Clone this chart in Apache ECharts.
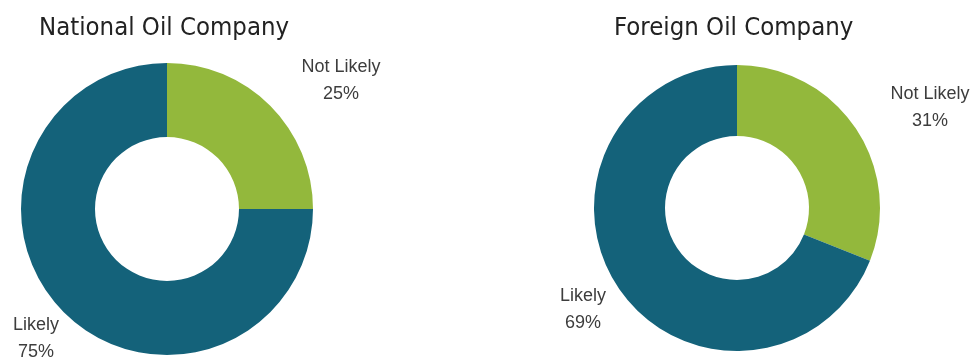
<!DOCTYPE html>
<html>
<head>
<meta charset="utf-8">
<script src="https://cdn.jsdelivr.net/npm/echarts@6/dist/echarts.min.js"></script>
<style>
  html, body { margin: 0; padding: 0; background: #ffffff; }
  #chart { width: 978px; height: 361px; }
</style>
</head>
<body>
<div id="chart"></div>
<script>
// Survey answers for the two company types
const categories = ['Not Likely', 'Likely'];
const nationalValues = [25, 75];
const foreignValues = [31, 69];
const chartTitles = ['National Oil Company', 'Foreign Oil Company'];

const colors = ['#93b83c', '#14627a'];

// where each answer label sits (x, y of the label centre)
const labelSpots = [
  [[341, 81], [36, 339]],
  [[930, 108], [583, 310]]
];

function makeData(values) {
  return categories.map((name, i) => ({
    name: name,
    value: values[i],
    itemStyle: { color: colors[i] }
  }));
}

function pieSeries(values, center, radius, spots) {
  return {
    type: 'pie',
    center: center,
    radius: radius,
    startAngle: 90,
    clockwise: true,
    silent: true,
    animation: false,
    avoidLabelOverlap: false,
    data: makeData(values),
    label: {
      show: true,
      position: 'inside',
      formatter: '{b}\n{c}%',
      fontFamily: 'Liberation Sans, Arial, sans-serif',
      fontSize: 18,
      color: '#3d3d3d',
      lineHeight: 27,
      align: 'center',
      overflow: 'none'
    },
    labelLine: { show: false },
    labelLayout: function (params) {
      const s = spots[params.dataIndex];
      return { x: s[0], y: s[1], align: 'center', verticalAlign: 'middle' };
    }
  };
}

const titleStyle = {
  fontFamily: 'DejaVu Sans Condensed, DejaVu Sans, sans-serif',
  fontSize: 25.5,
  fontWeight: 'normal',
  color: '#222222'
};

const chart = echarts.init(document.getElementById('chart'));
chart.setOption({
  backgroundColor: '#ffffff',
  title: [
    { text: chartTitles[0], left: 34, top: 10, textStyle: titleStyle },
    { text: chartTitles[1], left: 609, top: 10, textStyle: titleStyle }
  ],
  series: [
    pieSeries(nationalValues, [167, 209], [72, 146], labelSpots[0]),
    pieSeries(foreignValues, [737, 208], [72, 143], labelSpots[1])
  ]
});
</script>
</body>
</html>
